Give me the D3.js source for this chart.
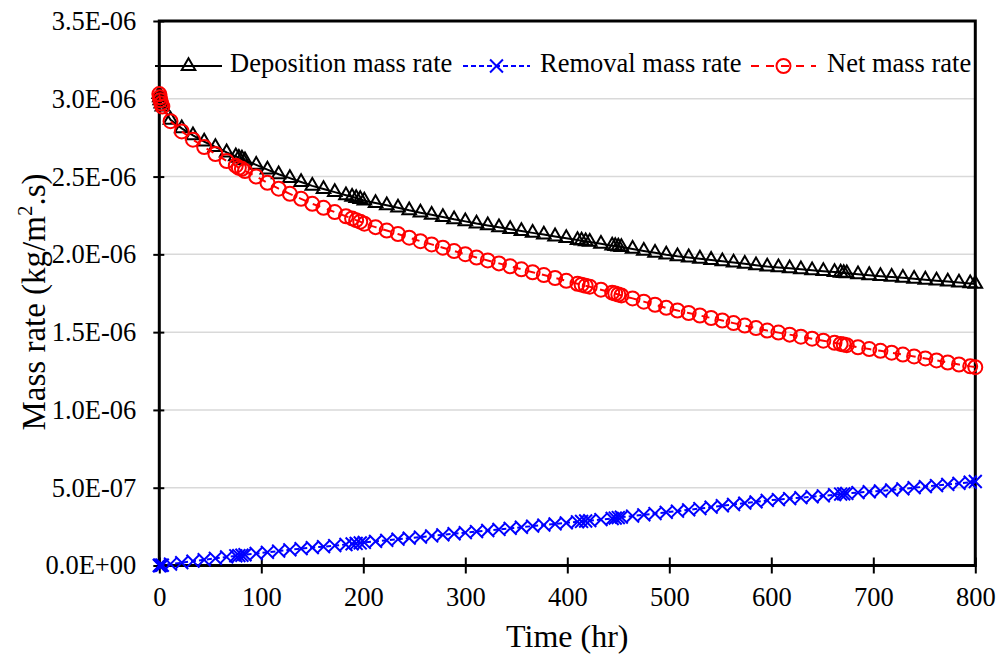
<!DOCTYPE html>
<html>
<head>
<meta charset="utf-8">
<script src="https://cdn.jsdelivr.net/npm/d3@7"></script>
<style>
  body { margin: 0; background: #fff; }
  svg text { font-family: "Liberation Serif", "Times New Roman", serif; fill: #000; }
</style>
</head>
<body>
<svg id="chart"></svg>
<script>
// Data (rates in units of 1E-06 kg/m2.s)
let timeHr = [0, 0.5, 1, 2, 3, 11, 22, 33, 44, 55,
  66, 75, 78, 81, 84, 95, 106, 117, 128, 139,
  150, 161, 172, 183, 189, 193, 197, 201, 212, 223,
  234, 245, 256, 267, 278, 289, 300, 311, 322, 333,
  344, 355, 366, 377, 388, 399, 410, 414, 418, 422,
  433, 444, 447, 450, 453, 464, 475, 486, 497, 508,
  519, 530, 541, 552, 563, 574, 585, 596, 607, 618,
  629, 640, 651, 662, 668, 671, 674, 685, 696, 707,
  718, 729, 740, 751, 762, 773, 784, 795, 800];

let deposition = [3.03, 3.01, 2.99, 2.97, 2.95, 2.865, 2.81, 2.765, 2.725, 2.69,
  2.655, 2.63, 2.62, 2.615, 2.605, 2.575, 2.545, 2.515, 2.49, 2.465,
  2.44, 2.42, 2.40, 2.38, 2.37, 2.362, 2.355, 2.345, 2.33, 2.315,
  2.30, 2.283, 2.268, 2.254, 2.24, 2.225, 2.212, 2.198, 2.186, 2.174,
  2.162, 2.15, 2.138, 2.127, 2.115, 2.104, 2.092, 2.088, 2.084, 2.08,
  2.068, 2.056, 2.053, 2.05, 2.047, 2.035, 2.022, 2.01, 1.998, 1.988,
  1.98, 1.972, 1.964, 1.955, 1.947, 1.939, 1.93, 1.922, 1.916, 1.91,
  1.904, 1.898, 1.892, 1.886, 1.882, 1.88, 1.878, 1.872, 1.866, 1.86,
  1.855, 1.849, 1.843, 1.837, 1.831, 1.825, 1.819, 1.813, 1.81];

let removal = [0, 0, 0.001, 0.001, 0.002, 0.009, 0.018, 0.028, 0.037, 0.046,
  0.055, 0.062, 0.064, 0.066, 0.069, 0.077, 0.085, 0.093, 0.101, 0.108,
  0.115, 0.121, 0.128, 0.135, 0.139, 0.142, 0.145, 0.148, 0.155, 0.162,
  0.169, 0.176, 0.183, 0.19, 0.197, 0.204, 0.211, 0.218, 0.225, 0.232,
  0.239, 0.246, 0.253, 0.26, 0.267, 0.274, 0.281, 0.283, 0.286, 0.288,
  0.295, 0.302, 0.305, 0.308, 0.311, 0.318, 0.326, 0.334, 0.342, 0.349,
  0.358, 0.366, 0.375, 0.384, 0.392, 0.401, 0.409, 0.418, 0.424, 0.43,
  0.436, 0.442, 0.448, 0.455, 0.459, 0.461, 0.463, 0.469, 0.474, 0.479,
  0.486, 0.493, 0.5, 0.507, 0.514, 0.521, 0.528, 0.535, 0.54];

let netRate = [3.03, 3.01, 2.99, 2.97, 2.95, 2.856, 2.79, 2.737, 2.69, 2.645,
  2.60, 2.57, 2.556, 2.55, 2.536, 2.50, 2.46, 2.422, 2.389, 2.357,
  2.325, 2.299, 2.272, 2.245, 2.231, 2.22, 2.21, 2.197, 2.175, 2.153,
  2.131, 2.107, 2.085, 2.064, 2.043, 2.021, 2.001, 1.98, 1.961, 1.942,
  1.923, 1.904, 1.885, 1.867, 1.848, 1.83, 1.811, 1.805, 1.798, 1.792,
  1.773, 1.754, 1.748, 1.742, 1.736, 1.717, 1.696, 1.676, 1.656, 1.639,
  1.623, 1.607, 1.591, 1.575, 1.558, 1.542, 1.526, 1.51, 1.497, 1.484,
  1.471, 1.458, 1.445, 1.432, 1.424, 1.42, 1.416, 1.403, 1.391, 1.38,
  1.368, 1.356, 1.344, 1.331, 1.318, 1.305, 1.292, 1.28, 1.275];

let xTicks = [0, 100, 200, 300, 400, 500, 600, 700, 800];
let yTicks = [0, 0.5, 1.0, 1.5, 2.0, 2.5, 3.0, 3.5];
let yTickLabels = ["0.0E+00", "5.0E-07", "1.0E-06", "1.5E-06", "2.0E-06", "2.5E-06", "3.0E-06", "3.5E-06"];
let seriesNames = ["Deposition mass rate", "Removal mass rate", "Net mass rate"];

// Layout
let width = 998;
let height = 655;
let plotLeft = 159.3;
let plotRight = 975.3;
let plotTop = 21;
let plotBottom = 565.5;

let svg = d3.select("#chart").attr("width", width).attr("height", height);

let xScale = d3.scaleLinear().domain([0, 800]).range([plotLeft, plotRight]);
let yScale = d3.scaleLinear().domain([0, 3.5]).range([plotBottom, plotTop]);

// gridlines
svg.append("g")
  .selectAll("line")
  .data(yTicks.filter((d) => d > 0 && d < 3.5))
  .enter()
  .append("line")
  .attr("x1", plotLeft)
  .attr("x2", plotRight)
  .attr("y1", (d) => yScale(d))
  .attr("y2", (d) => yScale(d))
  .attr("stroke", "#d9d9d9")
  .attr("stroke-width", 1.5);

// frame
svg.append("rect")
  .attr("x", plotLeft)
  .attr("y", plotTop)
  .attr("width", plotRight - plotLeft)
  .attr("height", plotBottom - plotTop)
  .attr("fill", "none")
  .attr("stroke", "#000")
  .attr("stroke-width", 3);

// axes
let xAxis = d3.axisBottom(xScale).tickValues(xTicks).tickFormat(d3.format("d")).tickSize(8).tickPadding(14);
let gx = svg.append("g")
  .attr("transform", "translate(0," + plotBottom + ")")
  .call(xAxis);
gx.select(".domain").remove();
gx.selectAll(".tick line").attr("y1", -8).attr("stroke-width", 2);
gx.selectAll(".tick text").attr("font-size", 26.5);

let yAxis = d3.axisLeft(yScale).tickValues(yTicks).tickFormat((d, i) => yTickLabels[i]).tickSize(6).tickPadding(17);
let gy = svg.append("g")
  .attr("transform", "translate(" + plotLeft + ",0)")
  .call(yAxis);
gy.select(".domain").remove();
gy.selectAll(".tick line").attr("x1", 5).attr("stroke-width", 2);
gy.selectAll(".tick text").attr("font-size", 26.5);

// axis titles
svg.append("text")
  .attr("x", (plotLeft + plotRight) / 2)
  .attr("y", 647)
  .attr("text-anchor", "middle")
  .attr("font-size", 32)
  .text("Time (hr)");

let yTitle = svg.append("text")
  .attr("transform", "translate(45," + 302 + ") rotate(-90)")
  .attr("text-anchor", "middle")
  .attr("font-size", 33);
yTitle.append("tspan").text("Mass rate (kg/m");
yTitle.append("tspan").attr("font-size", 21).attr("dy", -13).text("2");
yTitle.append("tspan").attr("dy", 13).text(".s)");

// series
let idx = d3.range(timeHr.length);
let lineFor = (values) => d3.line()
  .x((i) => xScale(timeHr[i]))
  .y((i) => yScale(values[i]))(idx);

let drawTriangle = (g, x, y) => {
  g.append("path")
    .attr("d", d3.symbol(d3.symbolTriangle, 80)())
    .attr("transform", "translate(" + x + "," + y + ")")
    .attr("fill", "none")
    .attr("stroke", "#000")
    .attr("stroke-width", 2);
};
let drawCross = (g, x, y) => {
  g.append("path")
    .attr("d", d3.symbol(d3.symbolTimes, 110)())
    .attr("transform", "translate(" + x + "," + y + ")")
    .attr("fill", "none")
    .attr("stroke", "#0000ff")
    .attr("stroke-width", 2);
};
let drawCircle = (g, x, y) => {
  g.append("circle")
    .attr("cx", x)
    .attr("cy", y)
    .attr("r", 7)
    .attr("fill", "none")
    .attr("stroke", "#ff0000")
    .attr("stroke-width", 2);
};

let series = [
  { values: deposition, color: "#000", dash: null, marker: drawTriangle },
  { values: removal, color: "#0000ff", dash: "5,3", marker: drawCross },
  { values: netRate, color: "#ff0000", dash: "8,7", marker: drawCircle },
];

series.forEach((s) => {
  let g = svg.append("g");
  g.append("path")
    .attr("d", lineFor(s.values))
    .attr("fill", "none")
    .attr("stroke", s.color)
    .attr("stroke-width", 2)
    .attr("stroke-dasharray", s.dash);
  idx.forEach((i) => s.marker(g, xScale(timeHr[i]), yScale(s.values[i])));
});

// legend
let legendY = 66;
let legendItems = [
  { x1: 155, x2: 222, text: 230 },
  { x1: 463, x2: 530, text: 540 },
  { x1: 751, x2: 816, text: 827 },
];
let legend = svg.append("g");
legendItems.forEach((item, i) => {
  let s = series[i];
  legend.append("line")
    .attr("x1", item.x1)
    .attr("x2", item.x2)
    .attr("y1", legendY)
    .attr("y2", legendY)
    .attr("stroke", s.color)
    .attr("stroke-width", 2)
    .attr("stroke-dasharray", s.dash);
  s.marker(legend, (item.x1 + item.x2) / 2, legendY);
  legend.append("text")
    .attr("x", item.text)
    .attr("y", legendY + 6)
    .attr("font-size", 26.5)
    .text(seriesNames[i]);
});
</script>
</body>
</html>
